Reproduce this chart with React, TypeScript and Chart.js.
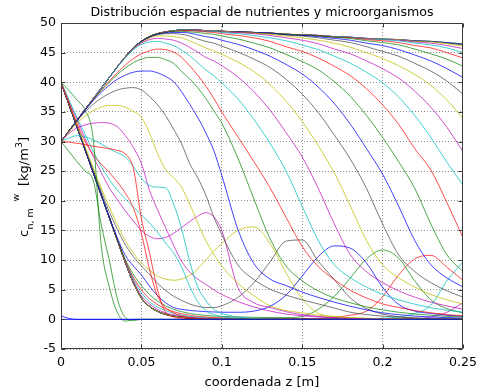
import React, { useEffect, useRef } from 'react';
import { Chart, registerables } from 'chart.js';

Chart.register(...registerables);

// ---------- data ----------
const Z = [0, 0.005, 0.01, 0.015, 0.02, 0.025, 0.03, 0.035, 0.04, 0.045,
  0.05, 0.055, 0.06, 0.065, 0.07, 0.075, 0.08, 0.085, 0.09, 0.095,
  0.1, 0.11, 0.12, 0.13, 0.14, 0.15, 0.16, 0.17, 0.18, 0.19,
  0.2, 0.21, 0.22, 0.23, 0.24, 0.25];

// upper envelope (late microorganism profiles)
const E = [30, 31.8, 33.6, 35.4, 37.2, 39.0, 40.8, 42.6, 44.3, 45.8,
  46.9, 47.7, 48.2, 48.5, 48.7, 48.8, 48.8, 48.8, 48.7, 48.7,
  48.6, 48.5, 48.4, 48.3, 48.1, 48.0, 47.9, 47.7, 47.6, 47.4,
  47.3, 47.2, 47.0, 46.9, 46.7, 46.5];

// lower bundle (late nutrient profiles)
const B = [40, 36.2, 32.4, 28.6, 24.8, 21.0, 17.2, 13.4, 9.6, 6.2,
  3.6, 2.2, 1.35, 0.85, 0.55, 0.35, 0.22, 0.14, 0.09, 0.06,
  0.04, 0.02, 0, 0, 0, 0, 0, 0, 0, 0,
  0, 0, 0, 0, 0, 0];

const U01 = [0.6, 0.15, 0, 0, 0, 0, 0, 0, 0, 0,
  0, 0, 0, 0, 0, 0, 0, 0, 0, 0,
  0, 0, 0, 0, 0, 0, 0, 0, 0, 0,
  0, 0, 0, 0, 0, 0];
const U02 = [30, 28.3, 26.6, 25.0, 23.5, 16.0, 10.0, 3.5, 0.3, -0.2,
  0, 0, 0, 0, 0, 0, 0, 0, 0, 0,
  0, 0, 0, 0, 0, 0, 0, 0, 0, 0,
  0, 0, 0, 0, 0, 0];
const U03 = [30, 29.9, 29.7, 29.5, 29.2, 29.0, 28.8, 28.5, 27.9, 25.5,
  17.0, 11.3, 5.0, 1.2, 0.4, 0.2, 0.1, 0.05, 0, 0,
  0, 0, 0, 0, 0, 0, 0, 0, 0, 0,
  0, 0, 0, 0, 0, 0];
const U04 = [30, 30.6, 31.0, 30.8, 30.3, 29.6, 28.8, 28.1, 27.4, 25.8,
  23.8, 22.6, 22.3, 22.2, 19.5, 15.3, 9.8, 5.5, 3.2, 1.7,
  1.0, 0.4, 0.15, 0.05, 0, 0, 0, 0, 0, 0,
  0, 0, 0, 0, 0, 0];
const U05 = [30, 31.4, 32.3, 32.8, 33.1, 33.2, 33.1, 32.5, 31.0, 29.0,
  26.3, 21.8, 18.5, 15.5, 12.5, 9.8, 8.0, 6.8, 5.9, 5.0,
  4.2, 3.0, 2.1, 1.4, 0.9, 0.6, 0.4, 0.25, 0.15, 0.1,
  0.05, 0, 0, 0, 0, 0];
const U06 = [30, 31.6, 33.1, 34.3, 35.2, 35.8, 36.1, 36.1, 35.8, 35.1,
  34.1, 31.5, 28.0, 25.3, 23.9, 22.3, 19.5, 16.3, 13.3, 11.0,
  9.0, 6.1, 4.0, 2.3, 1.5, 1.1, 0.7, 0.45, 0.3, 0.2,
  0.1, 0.05, 0, 0, 0, 0];
const U07 = [30, 31.8, 33.5, 35.0, 36.3, 37.3, 38.1, 38.7, 39.0, 39.1,
  38.7, 37.6, 36.2, 34.4, 32.1, 29.6, 26.3, 23.9, 21.0, 17.3,
  14.3, 9.2, 6.7, 5.1, 4.1, 3.3, 2.6, 1.9, 1.2, 0.8,
  0.55, 0.4, 0.25, 0.15, 0.1, 0.05];
const U08 = [30, 31.8, 33.6, 35.3, 36.9, 38.3, 39.5, 40.5, 41.2, 41.7,
  41.9, 41.9, 41.6, 41.0, 40.1, 38.4, 36.3, 34.1, 31.5, 28.5,
  24.3, 15.2, 9.4, 6.8, 5.7, 4.6, 3.7, 2.9, 2.2, 1.6,
  1.1, 0.8, 0.55, 0.4, 0.3, 0.2];
const U09 = [30, 31.8, 33.6, 35.3, 37.0, 38.6, 40.0, 41.3, 42.4, 43.3,
  43.9, 44.2, 44.2, 43.8, 43.2, 41.8, 40.6, 39.1, 37.3, 35.2,
  33.1, 27.2, 20.3, 13.6, 9.0, 6.5, 4.8, 3.6, 2.8, 2.1,
  1.6, 1.2, 0.9, 0.7, 0.5, 0.4];
const U10 = [30, 31.8, 33.6, 35.4, 37.1, 38.7, 40.2, 41.6, 42.9, 44.0,
  44.8, 45.3, 45.6, 45.5, 45.1, 44.2, 42.8, 41.2, 39.4, 37.3,
  35.0, 30.8, 26.6, 22.2, 17.2, 12.3, 8.9, 6.7, 4.9, 3.6,
  2.6, 2.0, 1.5, 1.1, 0.8, 0.6];
const U11 = [30, 31.8, 33.6, 35.4, 37.2, 39.0, 40.8, 42.6, 44.1, 45.5,
  46.4, 46.8, 46.9, 46.6, 46.2, 45.4, 44.5, 43.3, 42.1, 41.1,
  39.9, 37.2, 33.7, 29.7, 25.0, 19.1, 13.3, 9.2, 7.0, 5.45,
  4.2, 3.3, 2.57, 1.96, 1.54, 1.23];
const U12 = [30, 31.8, 33.6, 35.4, 37.2, 39.0, 40.8, 42.6, 44.2, 45.6,
  46.6, 47.2, 47.4, 47.3, 47.1, 46.6, 45.9, 45.1, 44.2, 43.6,
  42.8, 40.9, 38.4, 35.3, 31.5, 27.4, 22.1, 16.1, 10.9, 8.06,
  6.2, 4.82, 3.74, 2.92, 2.26, 1.74];
const U13 = [30, 31.8, 33.6, 35.4, 37.2, 39.0, 40.8, 42.6, 44.3, 45.7,
  46.7, 47.4, 47.8, 47.8, 47.7, 47.5, 47.0, 46.4, 45.8, 45.3,
  44.7, 43.4, 41.8, 39.6, 36.8, 33.4, 29.3, 24.7, 19.1, 13.3,
  9.2, 7.0, 5.45, 4.2, 3.3, 2.57];
const U14 = [30, 31.8, 33.6, 35.4, 37.2, 39.0, 40.8, 42.6, 44.3, 45.8,
  46.8, 47.6, 48.0, 48.2, 48.2, 48.1, 47.8, 47.3, 46.9, 46.6,
  46.1, 45.1, 43.9, 42.5, 40.5, 38.0, 34.9, 31.1, 27.0, 22.1,
  16.1, 10.9, 8.06, 6.2, 4.82, 3.74];
const U15 = [30, 31.8, 33.6, 35.4, 37.2, 39.0, 40.8, 42.6, 44.3, 45.8,
  46.9, 47.6, 48.1, 48.3, 48.4, 48.4, 48.3, 48.0, 47.7, 47.5,
  47.1, 46.4, 45.5, 44.4, 43.0, 41.4, 39.2, 36.4, 32.9, 28.8,
  24.5, 19.1, 13.3, 9.2, 7.0, 5.45];
const U16 = [30, 31.8, 33.6, 35.4, 37.2, 39.0, 40.8, 42.6, 44.3, 45.8,
  46.9, 47.7, 48.2, 48.4, 48.6, 48.6, 48.5, 48.4, 48.2, 48.1,
  47.8, 47.3, 46.6, 45.8, 44.7, 43.5, 42.1, 40.1, 37.6, 34.4,
  30.7, 26.6, 22.1, 16.1, 10.9, 8.06];
const U17 = [30, 31.8, 33.6, 35.4, 37.2, 39.0, 40.8, 42.6, 44.3, 45.8,
  46.9, 47.7, 48.2, 48.5, 48.6, 48.7, 48.7, 48.6, 48.5, 48.4,
  48.2, 47.9, 47.5, 46.9, 46.0, 45.2, 44.1, 42.7, 41.1, 38.9,
  36.2, 32.9, 28.8, 25.2, 19.7, 13.8];
const U18 = [30, 31.8, 33.6, 35.4, 37.2, 39.0, 40.8, 42.6, 44.3, 45.8,
  46.9, 47.7, 48.2, 48.5, 48.7, 48.8, 48.8, 48.7, 48.6, 48.6,
  48.4, 48.2, 47.9, 47.5, 47.0, 46.3, 45.5, 44.4, 43.2, 41.7,
  39.9, 37.5, 34.4, 30.7, 26.5, 22.7];
const U19 = [30, 31.8, 33.6, 35.4, 37.2, 39.0, 40.8, 42.6, 44.3, 45.8,
  46.9, 47.7, 48.2, 48.5, 48.7, 48.8, 48.8, 48.8, 48.7, 48.6,
  48.5, 48.4, 48.2, 47.9, 47.5, 47.1, 46.5, 45.6, 44.8, 43.6,
  42.3, 40.7, 38.5, 35.8, 32.4, 28.3];
const U20 = [30, 31.8, 33.6, 35.4, 37.2, 39.0, 40.8, 42.6, 44.3, 45.8,
  46.9, 47.7, 48.2, 48.5, 48.7, 48.8, 48.8, 48.8, 48.7, 48.7,
  48.6, 48.4, 48.3, 48.1, 47.8, 47.5, 47.1, 46.6, 45.9, 45.0,
  44.0, 42.8, 41.3, 39.5, 37.0, 33.9];
const U21 = [30, 31.8, 33.6, 35.4, 37.2, 39.0, 40.8, 42.6, 44.3, 45.8,
  46.9, 47.7, 48.2, 48.5, 48.7, 48.8, 48.8, 48.8, 48.7, 48.7,
  48.6, 48.5, 48.4, 48.2, 48.0, 47.8, 47.5, 47.1, 46.7, 46.0,
  45.2, 44.4, 43.2, 41.9, 40.2, 38.0];
const U22 = [30, 31.8, 33.6, 35.4, 37.2, 39.0, 40.8, 42.6, 44.3, 45.8,
  46.9, 47.7, 48.2, 48.5, 48.7, 48.8, 48.8, 48.8, 48.7, 48.7,
  48.6, 48.5, 48.4, 48.3, 48.0, 47.9, 47.7, 47.4, 47.1, 46.6,
  46.2, 45.5, 44.6, 43.6, 42.3, 40.8];
const U23 = [30, 31.8, 33.6, 35.4, 37.2, 39.0, 40.8, 42.6, 44.3, 45.8,
  46.9, 47.7, 48.2, 48.5, 48.7, 48.8, 48.8, 48.8, 48.7, 48.7,
  48.6, 48.5, 48.4, 48.3, 48.1, 48.0, 47.8, 47.6, 47.4, 47.0,
  46.7, 46.3, 45.6, 44.8, 43.9, 42.7];
const U24 = [30, 31.8, 33.6, 35.4, 37.2, 39.0, 40.8, 42.6, 44.3, 45.8,
  46.9, 47.7, 48.2, 48.5, 48.7, 48.8, 48.8, 48.8, 48.7, 48.7,
  48.6, 48.5, 48.4, 48.3, 48.1, 48.0, 47.9, 47.6, 47.5, 47.2,
  47.0, 46.7, 46.2, 45.8, 45.0, 44.1];
const U25 = [30, 31.8, 33.6, 35.4, 37.2, 39.0, 40.8, 42.6, 44.3, 45.8,
  46.9, 47.7, 48.2, 48.5, 48.7, 48.8, 48.8, 48.8, 48.7, 48.7,
  48.6, 48.5, 48.4, 48.3, 48.1, 48.0, 47.9, 47.7, 47.6, 47.3,
  47.2, 47.0, 46.6, 46.3, 45.8, 45.0];
const U26 = [30, 31.8, 33.6, 35.4, 37.2, 39.0, 40.8, 42.6, 44.3, 45.8,
  46.9, 47.7, 48.2, 48.5, 48.7, 48.8, 48.8, 48.8, 48.7, 48.7,
  48.6, 48.5, 48.4, 48.3, 48.1, 48.0, 47.9, 47.7, 47.6, 47.4,
  47.2, 47.1, 46.8, 46.6, 46.2, 45.7];
const U27 = [30, 31.8, 33.6, 35.4, 37.2, 39.0, 40.8, 42.6, 44.3, 45.8,
  46.9, 47.7, 48.2, 48.5, 48.7, 48.8, 48.8, 48.8, 48.7, 48.7,
  48.6, 48.5, 48.4, 48.3, 48.1, 48.0, 47.9, 47.7, 47.6, 47.4,
  47.3, 47.2, 46.9, 46.8, 46.5, 46.1];
const U28 = [30, 31.8, 33.6, 35.4, 37.2, 39.0, 40.8, 42.6, 44.3, 45.8,
  46.9, 47.7, 48.2, 48.5, 48.7, 48.8, 48.8, 48.8, 48.7, 48.7,
  48.6, 48.5, 48.4, 48.3, 48.1, 48.0, 47.9, 47.7, 47.6, 47.4,
  47.3, 47.2, 47.0, 46.9, 46.6, 46.3];
const U29 = [30, 31.8, 33.6, 35.4, 37.2, 39.0, 40.8, 42.6, 44.3, 45.8,
  46.9, 47.7, 48.2, 48.5, 48.7, 48.8, 48.8, 48.8, 48.7, 48.7,
  48.6, 48.5, 48.4, 48.3, 48.1, 48.0, 47.9, 47.7, 47.6, 47.4,
  47.3, 47.2, 47.0, 46.9, 46.7, 46.4];

const L01 = [0, 0, 0, 0, 0, 0, 0, 0, 0, 0,
  0, 0, 0, 0, 0, 0, 0, 0, 0, 0,
  0, 0, 0, 0, 0, 0, 0, 0, 0, 0,
  0, 0, 0, 0, 0, 0];
const L02 = [40, 38.6, 37.0, 35.3, 30.5, 12.5, 5.5, 1.2, -0.3, 0,
  0, 0, 0, 0, 0, 0, 0, 0, 0, 0,
  0, 0, 0, 0, 0, 0, 0, 0, 0, 0,
  0, 0, 0, 0, 0, 0];
const L03 = [40, 36.5, 33.0, 30.0, 27.8, 26.2, 24.8, 23.2, 21.3, 18.8,
  14.5, 8.5, 4.0, 2.0, 1.1, 0.6, 0.3, 0.15, 0.05, 0,
  0, 0, 0, 0, 0, 0, 0, 0, 0, 0,
  0, 0, 0, 0, 0, 0];
const L04 = [40, 37.0, 34.0, 31.2, 28.4, 25.8, 23.6, 21.8, 20.3, 19.0,
  17.6, 16.3, 14.7, 12.9, 11.2, 8.8, 5.6, 3.0, 1.5, 0.8,
  0.45, 0.15, 0.05, 0, 0, 0, 0, 0, 0, 0,
  0, 0, 0, 0, 0, 0];
const L05 = [40, 36.8, 33.6, 30.5, 27.5, 24.8, 22.2, 20.2, 18.3, 16.6,
  15.0, 14.0, 13.6, 13.8, 14.5, 15.5, 16.5, 17.4, 18.0, 17.3,
  15.0, 5.4, 2.8, 2.0, 1.3, 0.8, 0.5, 0.3, 0.15, 0.1,
  0.05, 0, 0, 0, 0, 0];
const L06 = [40, 36.4, 32.8, 29.2, 25.6, 22.2, 19.0, 16.0, 13.3, 11.2,
  9.5, 8.3, 7.3, 6.8, 6.6, 6.8, 7.4, 8.5, 10.0, 11.5,
  12.8, 15.0, 15.6, 12.8, 7.8, 3.5, 1.0, 0.5, 0.25, 0.12,
  0.05, 0, 0, 0, 0, 0];
const L07 = [40, 36.3, 32.6, 28.9, 25.2, 21.6, 18.2, 15.2, 12.6, 10.6,
  9.0, 7.6, 6.1, 4.9, 3.9, 3.2, 2.6, 2.2, 2.0, 2.0,
  2.3, 3.7, 6.2, 9.7, 13.2, 13.4, 9.8, 6.7, 3.6, 1.8,
  0.9, 0.45, 0.2, 0.1, 0.05, 0];
const L08 = [40, 36.2, 32.4, 28.6, 24.8, 21.0, 17.3, 13.8, 10.8, 9.0,
  7.5, 5.6, 4.0, 2.8, 2.0, 1.7, 1.5, 1.4, 1.3, 1.25,
  1.2, 1.2, 1.4, 2.2, 4.1, 7.3, 10.6, 12.4, 12.0, 9.5,
  5.4, 2.5, 1.4, 1.0, 0.7, 0.5];
const L09 = [40, 36.2, 32.4, 28.6, 24.8, 21.0, 17.2, 13.5, 10.1, 7.6,
  5.7, 4.2, 3.1, 2.3, 1.7, 1.3, 1.0, 0.8, 0.65, 0.55,
  0.5, 0.4, 0.35, 0.3, 0.3, 0.5, 1.7, 3.9, 7.0, 10.2,
  11.7, 10.3, 6.5, 3.3, 1.8, 1.1];
const L10 = [40, 36.2, 32.4, 28.6, 24.8, 21.0, 17.2, 13.4, 9.9, 7.1,
  5.0, 3.5, 2.5, 1.8, 1.3, 0.95, 0.7, 0.5, 0.4, 0.3,
  0.25, 0.2, 0.15, 0.12, 0.1, 0.1, 0.12, 0.3, 0.7, 1.4,
  3.8, 7.5, 10.2, 10.8, 8.8, 6.6];
const L11 = [40, 36.2, 32.4, 28.6, 24.8, 21.0, 17.2, 13.4, 9.8, 6.8,
  4.5, 3.0, 2.1, 1.5, 1.0, 0.7, 0.5, 0.35, 0.25, 0.2,
  0.15, 0.1, 0.05, 0.05, 0.05, 0.05, 0.05, 0.05, 0.05, 0.1,
  0.2, 0.4, 1.0, 2.4, 6.5, 9.7];
const L12 = [40, 36.2, 32.4, 28.6, 24.8, 21.0, 17.2, 13.4, 9.7, 6.5,
  4.0, 2.6, 1.7, 1.1, 0.75, 0.5, 0.35, 0.25, 0.2, 0.15,
  0.1, 0.05, 0, 0, 0, 0, 0, 0, 0, 0,
  0, 0, 0.05, 0.4, 1.2, 2.8];

const U_SERIES = [U01, U02, U03, U04, U05, U06, U07, U08, U09, U10,
  U11, U12, U13, U14, U15, U16, U17, U18, U19, U20,
  U21, U22, U23, U24, U25, U26, U27, U28, U29, E];
const L_SERIES = [L01, L02, L03, L04, L05, L06, L07, L08, L09, L10,
  L11, L12, B, B, B, B, B, B, B, B,
  B, B, B, B, B, B, B, B, B, B];

const X_TICKS = [0, 0.05, 0.1, 0.15, 0.2, 0.25];
const X_TICK_LABELS = ['0', '0.05', '0.1', '0.15', '0.2', '0.25'];
const Y_TICKS = [-5, 0, 5, 10, 15, 20, 25, 30, 35, 40, 45, 50];

const TITLE = 'Distribución espacial de nutrientes y microorganismos';
const X_LABEL = 'coordenada z [m]';

// ---------- styles ----------
const CYCLE = [
  'rgba(0,0,255,0.75)',
  'rgba(0,128,0,0.7)',
  'rgba(255,0,0,0.7)',
  'rgba(0,191,191,0.75)',
  'rgba(191,0,191,0.7)',
  'rgba(191,191,0,0.75)',
  'rgba(64,64,64,0.7)',
];
const FONT = '"DejaVu Sans", Verdana, sans-serif';

const decor = {
  id: 'decor',
  afterDraw(chart: any) {
    const { ctx, chartArea: a, scales } = chart;
    const l = Math.round(a.left) + 0.5;
    const r = Math.round(a.right) - 0.5;
    const t = Math.round(a.top) + 0.5;
    const b = Math.round(a.bottom) - 0.5;
    ctx.save();
    ctx.setLineDash([]);
    ctx.strokeStyle = '#3a3a3a';
    ctx.lineWidth = 1;
    ctx.beginPath();
    ctx.rect(l, t, r - l, b - t);
    ctx.stroke();
    // inward tick marks
    ctx.beginPath();
    X_TICKS.forEach((v) => {
      const x = Math.round(scales.x.getPixelForValue(v)) + 0.5;
      ctx.moveTo(x, b); ctx.lineTo(x, b - 4);
      ctx.moveTo(x, t); ctx.lineTo(x, t + 4);
    });
    Y_TICKS.forEach((v) => {
      const y = Math.round(scales.y.getPixelForValue(v)) + 0.5;
      ctx.moveTo(l, y); ctx.lineTo(l + 4, y);
      ctx.moveTo(r, y); ctx.lineTo(r - 4, y);
    });
    ctx.stroke();

    ctx.fillStyle = '#000';
    ctx.textBaseline = 'alphabetic';
    ctx.textAlign = 'center';
    const cx = (a.left + a.right) / 2;
    ctx.font = `12.6px ${FONT}`;
    ctx.fillText(TITLE, cx, 15.5);
    ctx.font = `13px ${FONT}`;
    ctx.fillText(X_LABEL, cx, 386);

    // rotated y label: c_{n, m}^{w} [kg/m^3]
    ctx.translate(28, 0);
    ctx.rotate(-Math.PI / 2);
    ctx.textAlign = 'left';
    const pieces: [string, number, number, number][] = [
      ['c', 13, 237, 0],
      ['n, m', 9.5, 229.5, 5],
      ['w', 9.5, 201.5, -9],
      ['[kg/m', 13, 186, 0],
      ['3', 9.5, 148, -6],
      [']', 13, 142, 0],
    ];
    pieces.forEach(([txt, size, startY, off]) => {
      ctx.font = `${size}px ${FONT}`;
      ctx.fillText(txt, -startY, off);
    });
    ctx.restore();
  },
};

export default function App() {
  const ref = useRef<HTMLCanvasElement | null>(null);

  useEffect(() => {
    if (!ref.current) return;
    const datasets: any[] = [];
    const add = (arr: number[], i: number) => {
      datasets.push({
        data: Z.map((z, j) => ({ x: z, y: arr[j] })),
        borderColor: CYCLE[i % 7],
        backgroundColor: CYCLE[i % 7],
        borderWidth: 1,
        pointRadius: 0,
        fill: false,
        tension: 0.3,
        cubicInterpolationMode: 'monotone',
      });
    };
    U_SERIES.forEach((s, i) => add(s, i));
    L_SERIES.forEach((s, i) => add(s, i));

    const tickFont = { family: FONT, size: 12.6 };
    const chart = new Chart(ref.current, {
      type: 'line',
      data: { datasets },
      options: {
        animation: false,
        responsive: false,
        devicePixelRatio: 1,
        layout: { padding: { top: 23, right: 16, left: 0, bottom: 0 } },
        plugins: { legend: { display: false }, tooltip: { enabled: false }, title: { display: false } },
        scales: {
          x: {
            type: 'linear',
            min: 0,
            max: 0.25,
            afterBuildTicks: (s: any) => { s.ticks = X_TICKS.map((v) => ({ value: v })); },
            afterFit: (s: any) => { s.height = 40; },
            ticks: {
              autoSkip: false,
              maxRotation: 0,
              padding: 6,
              color: '#000',
              font: tickFont,
              callback: (_v: any, idx: number) => X_TICK_LABELS[idx],
            },
            grid: { color: 'rgba(0,0,0,0.45)', lineWidth: 1, drawTicks: false },
            border: { display: false, dash: [1, 2] },
          },
          y: {
            type: 'linear',
            min: -5,
            max: 50,
            afterBuildTicks: (s: any) => { s.ticks = Y_TICKS.map((v) => ({ value: v })); },
            afterFit: (s: any) => { s.width = 61; },
            ticks: {
              autoSkip: false,
              padding: 5,
              color: '#000',
              font: tickFont,
              callback: (v: any) => String(v),
            },
            grid: { color: 'rgba(0,0,0,0.45)', lineWidth: 1, drawTicks: false },
            border: { display: false, dash: [1, 2] },
          },
        },
      },
      plugins: [decor],
    } as any);
    return () => chart.destroy();
  }, []);

  return (
    <div style={{ position: 'absolute', left: 0, top: 0, width: 483, height: 389, background: '#fff' }}>
      <canvas ref={ref} width={483} height={389} style={{ display: 'block' }} />
    </div>
  );
}
